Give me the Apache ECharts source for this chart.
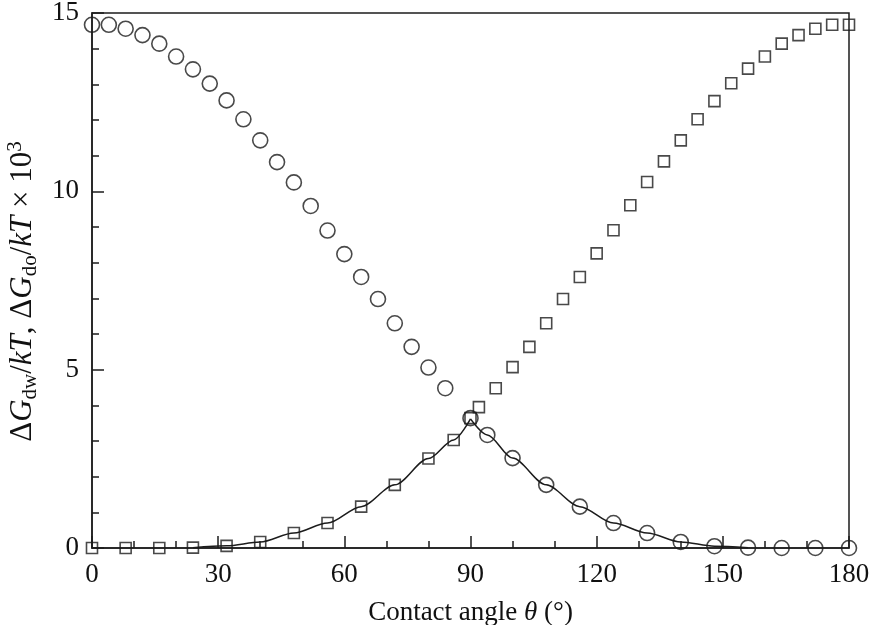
<!DOCTYPE html>
<html>
<head>
<meta charset="utf-8">
<script src="https://cdn.jsdelivr.net/npm/echarts@6/dist/echarts.min.js"></script>
<style>
  html, body { margin: 0; padding: 0; background: #fff; }
  #chart { width: 869px; height: 625px; }
</style>
</head>
<body>
<div id="chart"></div>
<script>
// Circles (ΔG_dw)
const circleTheta = [0, 4, 8, 12, 16, 20, 24, 28, 32, 36, 40, 44, 48, 52, 56, 60, 64, 68, 72, 76, 80, 84, 90, 94, 100, 108, 116, 124, 132, 140, 148, 156, 164, 172, 180];
const circleValue = [14.67, 14.67, 14.56, 14.38, 14.14, 13.78, 13.42, 13.02, 12.55, 12.02, 11.43, 10.82, 10.25, 9.59, 8.90, 8.24, 7.60, 6.98, 6.30, 5.64, 5.06, 4.48, 3.64, 3.17, 2.52, 1.77, 1.16, 0.70, 0.42, 0.17, 0.05, 0.01, 0, 0, 0];
// Squares (ΔG_do)
const squareTheta = [0, 8, 16, 24, 32, 40, 48, 56, 64, 72, 80, 86, 90, 92, 96, 100, 104, 108, 112, 116, 120, 124, 128, 132, 136, 140, 144, 148, 152, 156, 160, 164, 168, 172, 176, 180];
const squareValue = [0, 0, 0, 0.01, 0.06, 0.17, 0.42, 0.70, 1.16, 1.77, 2.51, 3.03, 3.64, 3.95, 4.48, 5.07, 5.64, 6.30, 6.98, 7.60, 8.26, 8.91, 9.61, 10.26, 10.84, 11.43, 12.02, 12.53, 13.03, 13.44, 13.78, 14.14, 14.38, 14.56, 14.67, 14.67];
// Solid curves
const curveLeftTheta = [24, 32, 40, 48, 56, 64, 72, 80, 86, 90];
const curveLeftValue = [0.01, 0.06, 0.17, 0.42, 0.70, 1.16, 1.77, 2.51, 3.03, 3.62];
const curveRightTheta = [90, 94, 100, 108, 116, 124, 132, 140, 148, 156];
const curveRightValue = [3.62, 3.17, 2.52, 1.77, 1.16, 0.70, 0.42, 0.17, 0.05, 0.01];
const xTicks = [0, 30, 60, 90, 120, 150, 180];
const yTicks = [0, 5, 10, 15];

const zip = (a, b) => a.map((v, i) => [v, b[i]]);
const ink = '#1c1c1c';
const font = 'Liberation Serif';

const chart = echarts.init(document.getElementById('chart'));
chart.setOption({
  animation: false,
  backgroundColor: '#fff',
  grid: { left: 92, right: 20, top: 13, bottom: 77, outerBoundsMode: 'none', containLabel: false,
          show: true, borderColor: ink, borderWidth: 1.5, backgroundColor: 'transparent' },
  xAxis: {
    type: 'value', min: 0, max: 180, interval: 30,
    name: 'Contact angle {i|θ} (°)',
    nameLocation: 'middle', nameGap: 51,
    nameTextStyle: { fontFamily: font, fontSize: 27, color: '#111', rich: { i: { fontFamily: font, fontSize: 27, fontStyle: 'italic', color: '#111' } } },
    axisLine: { show: true, lineStyle: { color: ink, width: 1.5 } },
    axisTick: { show: true, inside: true, length: 12, lineStyle: { color: ink, width: 1.5 } },
    minorTick: { show: true, splitNumber: 3, length: 7, lineStyle: { color: ink, width: 1.5 } },
    splitLine: { show: false },
    axisLabel: { fontFamily: font, fontSize: 27, color: '#111', margin: 13,
      formatter: v => xTicks.includes(v) ? String(v) : '' }
  },
  yAxis: {
    type: 'value', min: 0, max: 15, interval: 5,
    name: '{n|Δ}{i|G}{s|dw}{n|/}{i|kT}{n|, Δ}{i|G}{s|do}{n|/}{i|kT}{n| × 10}{p|3}',
    nameLocation: 'middle', nameGap: 51, nameRotate: 90,
    nameTextStyle: {
      fontFamily: font, fontSize: 31, color: '#111',
      padding: [0, 22, 0, 0],
      rich: {
        n: { fontFamily: font, fontSize: 31, lineHeight: 36, color: '#111' },
        i: { fontFamily: font, fontSize: 31, lineHeight: 36, fontStyle: 'italic', color: '#111' },
        s: { fontFamily: font, fontSize: 21, lineHeight: 20, verticalAlign: 'bottom', color: '#111' },
        p: { fontFamily: font, fontSize: 21, lineHeight: 20, verticalAlign: 'top', color: '#111' }
      }
    },
    axisLine: { show: true, lineStyle: { color: ink, width: 1.5 } },
    axisTick: { show: true, inside: true, length: 12, lineStyle: { color: ink, width: 1.5 } },
    minorTick: { show: true, splitNumber: 5, length: 7, lineStyle: { color: ink, width: 1.5 } },
    splitLine: { show: false },
    axisLabel: { fontFamily: font, fontSize: 27, color: '#111', margin: 13,
      formatter: v => yTicks.includes(v) ? String(v) : '' }
  },
  series: [
    { type: 'line', data: zip(curveLeftTheta, curveLeftValue), smooth: 0.3, smoothMonotone: 'x', showSymbol: false, symbol: 'none', lineStyle: { color: ink, width: 1.5 }, z: 2 },
    { type: 'line', data: zip(curveRightTheta, curveRightValue), smooth: 0.3, smoothMonotone: 'x', showSymbol: false, symbol: 'none', lineStyle: { color: ink, width: 1.5 }, z: 2 },
    { type: 'scatter', data: zip(circleTheta, circleValue), symbol: 'circle', symbolSize: 15, clip: false,
      itemStyle: { color: 'rgba(0,0,0,0)', borderColor: ink, borderWidth: 1.6 }, z: 3 },
    { type: 'scatter', data: zip(squareTheta, squareValue), symbol: 'rect', symbolSize: 11, clip: false,
      itemStyle: { color: 'rgba(0,0,0,0)', borderColor: ink, borderWidth: 1.6 }, z: 3 }
  ]
});
</script>
</body>
</html>
